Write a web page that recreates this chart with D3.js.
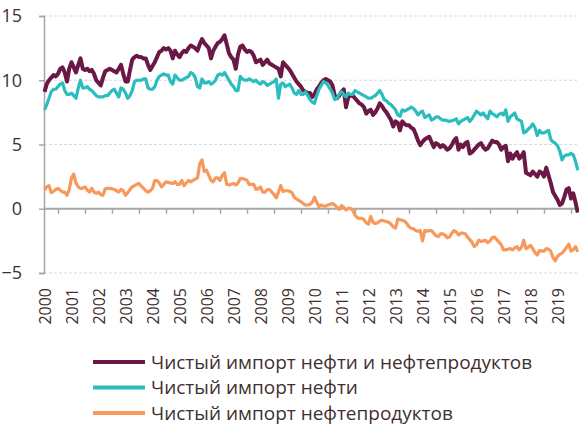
<!DOCTYPE html>
<html>
<head>
<meta charset="utf-8">
<script src="https://cdn.jsdelivr.net/npm/d3@7"></script>
<style>
  body { margin: 0; background: #fff; }
  svg { display: block; }
</style>
</head>
<body>
<div id="chart"></div>
<script>
const width = 579;
const height = 425;

const startYear = 2000;
const years = d3.range(2000, 2020);
const yTicks = [-5, 0, 5, 10, 15];

// monthly values, one row per year (2019 ends in October)
const totalImport = [
  9.1, 9.7, 10.0, 10.2, 10.4, 10.3, 10.5, 10.9, 11.0, 10.6, 9.9, 10.9,
  11.4, 11.0, 10.6, 11.2, 11.7, 10.9, 10.8, 10.9, 10.7, 10.8, 10.5, 10.0,
  9.8, 9.6, 10.2, 10.7, 10.8, 10.9, 10.8, 10.7, 10.6, 10.9, 11.2, 10.5,
  9.9, 9.9, 10.8, 11.6, 11.8, 11.9, 11.8, 11.8, 11.7, 11.7, 11.2, 10.8,
  11.1, 11.4, 11.8, 12.2, 12.3, 12.5, 12.4, 12.5, 12.3, 11.7, 12.3, 12.0,
  11.8, 12.1, 12.3, 12.2, 12.5, 12.7, 12.6, 12.5, 12.3, 12.8, 13.2, 12.9,
  12.7, 12.5, 11.7, 12.3, 12.6, 12.9, 13.0, 13.2, 13.5, 12.8, 12.1, 11.8,
  11.6, 10.9, 12.0, 12.6, 12.7, 12.4, 12.2, 12.3, 12.2, 11.9, 11.4, 11.5,
  11.6, 11.2, 11.4, 11.6, 11.3, 11.2, 11.1, 11.0, 10.9, 10.3, 11.4, 11.2,
  11.0, 10.8, 10.5, 10.2, 9.9, 9.7, 9.5, 9.2, 9.1, 9.0, 9.0, 8.7,
  8.9, 9.3, 9.5, 9.8, 10.0, 10.1, 10.0, 9.9, 9.6, 8.8, 8.6, 8.8,
  9.1, 9.3, 7.9, 8.7, 8.8, 8.8, 8.6, 8.4, 8.2, 8.1, 7.9, 7.4,
  7.6, 7.7, 7.3, 7.5, 7.8, 8.2, 8.0, 7.7, 7.5, 7.2, 6.9, 6.4,
  6.8, 6.7, 6.1, 6.8, 6.6, 6.5, 6.5, 6.3, 6.2, 5.8, 5.3, 4.95,
  5.2, 5.4, 5.5, 5.6, 5.2, 4.8, 5.1, 5.0, 4.8, 4.95, 4.8, 4.6,
  4.7, 4.95, 5.3, 5.5, 4.6, 5.0, 4.8, 5.1, 5.2, 4.3, 4.4, 4.6,
  4.8, 5.0, 5.1, 4.8, 4.6, 4.7, 5.0, 5.3, 5.2, 5.2, 5.0, 4.6,
  4.8, 4.9, 3.7, 4.3, 3.9, 4.2, 4.4, 3.9, 4.1, 4.4, 2.8, 2.7,
  2.6, 2.9, 2.7, 2.5, 2.9, 2.8, 2.5, 3.2, 2.6, 2.0, 1.3, 1.0,
  0.7, 0.3, 0.4, 0.9, 1.5, 1.6, 0.8, 1.2, 0.5, -0.3
];

const crudeImport = [
  7.7, 8.1, 8.6, 9.1, 9.3, 9.3, 9.5, 9.7, 9.8, 9.2, 8.9, 8.9,
  9.0, 8.8, 8.6, 9.4, 10.0, 9.4, 9.4, 9.5, 9.3, 9.2, 9.0, 8.8,
  8.7, 8.7, 8.7, 8.8, 8.8, 9.0, 9.2, 9.3, 9.0, 8.7, 9.4, 9.3,
  9.0, 8.6, 8.8, 9.2, 9.9, 10.0, 10.0, 10.0, 10.1, 10.1, 9.4, 9.3,
  9.3, 9.5, 10.0, 10.3, 10.4, 10.5, 10.4, 10.4, 9.9, 9.7, 10.4, 10.2,
  10.0, 10.0, 10.1, 10.2, 10.3, 10.6, 10.5, 10.2, 9.5, 9.4, 10.1, 9.8,
  9.8, 9.9, 9.7, 9.8, 10.0, 10.4, 10.5, 10.4, 10.6, 10.3, 10.0, 9.7,
  9.5, 9.2, 9.2, 10.3, 10.1, 10.0, 10.0, 10.1, 10.0, 9.9, 10.0, 9.8,
  9.7, 9.9, 9.8, 9.6, 9.7, 9.8, 9.9, 10.1, 8.6, 9.7, 9.8, 9.5,
  9.6, 9.7, 9.4, 9.0, 8.9, 9.2, 8.9, 8.9, 9.1, 8.8, 8.5, 8.3,
  8.2, 8.8, 9.3, 9.6, 9.9, 9.8, 9.6, 9.3, 9.0, 8.5, 8.6, 8.9,
  9.1, 8.9, 8.7, 9.0, 8.9, 8.9, 9.2, 9.1, 9.0, 8.9, 8.8, 8.7,
  8.6, 8.6, 8.7, 8.8, 9.0, 9.2, 8.9, 8.5, 8.4, 8.2, 8.1, 7.9,
  7.7, 7.3, 7.2, 7.7, 7.6, 7.7, 7.8, 7.9, 7.8, 7.6, 7.3, 7.5,
  7.6, 7.1, 7.2, 7.3, 6.9, 7.0, 7.15, 7.15, 7.0, 6.9, 6.9, 6.85,
  6.8, 6.85, 6.9, 7.0, 6.6, 6.8, 6.9, 7.0, 7.1, 6.8, 7.0, 7.3,
  7.6, 7.45, 7.3, 7.45, 7.2, 7.0, 7.6, 7.4, 7.3, 7.15, 7.35, 7.45,
  7.3, 7.7, 6.8, 7.15, 7.3, 7.45, 7.0, 6.9, 6.8, 5.9, 6.0, 6.2,
  6.35, 6.6, 6.3, 5.7, 6.1, 5.9, 5.9, 6.0, 6.1, 5.4, 5.2, 5.1,
  4.9, 4.5, 3.8, 4.1, 4.2, 4.2, 4.3, 4.2, 3.7, 3.0
];

const productsImport = [
  1.45, 1.7, 1.8, 1.25, 1.35, 1.5, 1.58, 1.45, 1.3, 1.3, 1.05, 1.5,
  2.4, 2.7, 2.0, 1.7, 1.58, 1.6, 1.7, 1.45, 1.3, 1.58, 1.3, 1.2,
  1.3, 1.1, 1.05, 1.55, 1.58, 1.58, 1.55, 1.5, 1.4, 1.3, 1.5, 1.4,
  1.05, 1.25, 1.5, 1.7, 1.8, 1.9, 1.97, 1.75, 1.6, 1.4, 1.3, 1.4,
  1.6, 2.2, 2.2, 2.0, 1.7, 1.9, 2.1, 2.05, 2.0, 1.97, 2.1, 1.9,
  1.9, 2.2, 1.8, 2.0, 2.2, 2.1, 2.2, 2.3, 2.4, 3.5, 3.8, 2.9,
  3.0, 2.6, 2.2, 2.1, 2.4, 2.4, 2.2, 2.6, 2.8, 1.9, 1.84, 1.9,
  1.97, 1.85, 2.0, 2.36, 2.35, 2.3, 2.2, 1.9, 1.9, 1.9, 1.5, 1.55,
  1.7, 1.3, 1.3, 1.5, 1.5, 1.3, 1.1, 0.85, 1.3, 1.8, 1.35, 1.4,
  1.4, 1.35, 1.25, 0.9, 0.75, 0.65, 0.55, 0.4, 0.29, 0.29, 0.35, 0.5,
  0.9, 0.5, 0.15, 0.3, 0.2, 0.2, 0.29, 0.35, 0.4, 0.3, 0.1, -0.05,
  0.25, 0.1, -0.1, 0.03, 0.03, -0.1, -0.5, -0.7, -0.75, -0.75, -0.85, -1.1,
  -1.2, -0.6, -1.05, -1.15, -1.1, -0.95, -0.9, -0.95, -1.0, -1.05, -1.2, -1.4,
  -1.5, -0.8, -0.85, -0.9, -0.95, -1.15, -1.4, -1.52, -1.55, -1.7, -1.75, -1.7,
  -2.5, -1.7, -1.75, -1.7, -1.7, -1.9, -2.1, -2.17, -1.95, -1.95, -2.05, -2.25,
  -2.2, -1.9, -1.7, -1.8, -2.05, -1.9, -1.9, -1.95, -2.2, -2.4, -2.6, -2.95,
  -2.8, -2.45, -2.55, -2.5, -2.45, -2.65, -2.5, -2.25, -2.2, -2.4, -2.6, -2.8,
  -3.2, -3.2, -3.15, -3.1, -3.2, -3.05, -2.95, -3.2, -3.0, -2.45, -3.1, -3.0,
  -2.85, -3.1, -3.4, -3.6, -3.25, -3.3, -3.3, -3.1, -3.15, -3.3, -3.8, -4.05,
  -3.7, -3.55, -3.45, -3.25, -3.0, -2.75, -3.3, -3.2, -2.95, -3.35
];

const seriesNames = [
  "Чистый импорт нефти и нефтепродуктов",
  "Чистый импорт нефти",
  "Чистый импорт нефтепродуктов"
];
const seriesColors = ["#6c1846", "#2bbdbd", "#f8985a"];
const seriesWidths = [4, 3.2, 3.2];
const seriesValues = [totalImport, crudeImport, productsImport];

const textColor = "#3e302f";
const axisColor = "#a6a6a6";

const svg = d3.select("#chart").append("svg")
  .attr("width", width)
  .attr("height", height)
  .style("font-family", "'Open Sans', sans-serif");

const x = d3.scaleLinear().domain([2000, 2020]).range([44.5, 44.5 + 27 * 20]);
const y = d3.scaleLinear().domain([-5, 15]).range([273, 16]);

// grid
svg.append("g")
  .selectAll("line")
  .data(yTicks.filter(d => d !== 0))
  .join("line")
  .attr("x1", 44).attr("x2", width)
  .attr("y1", d => y(d)).attr("y2", d => y(d))
  .attr("stroke", "#d9d9d9")
  .attr("stroke-width", 1)
  .attr("stroke-dasharray", "3,2");

// y axis
const yAxis = svg.append("g")
  .attr("transform", "translate(44,0)")
  .call(d3.axisLeft(y).tickValues(yTicks).tickSize(5).tickPadding(17).tickFormat(d3.format("d")));
yAxis.select(".domain").attr("stroke", axisColor).attr("stroke-width", 1.5);
yAxis.selectAll(".tick line").attr("stroke", axisColor).attr("stroke-width", 1.5);
yAxis.selectAll(".tick text")
  .attr("fill", textColor)
  .style("font-size", "18px")
  .style("font-family", "'Open Sans', sans-serif");

// zero line with mid-year ticks
const xAxis = svg.append("g")
  .attr("transform", `translate(0,${y(0)})`)
  .call(d3.axisBottom(x).tickValues(years.map(d => d + 0.5)).tickSize(5).tickFormat(""));
xAxis.select(".domain").remove();
xAxis.selectAll(".tick line").attr("stroke", axisColor).attr("stroke-width", 1.5);
svg.append("line")
  .attr("x1", 44).attr("x2", width)
  .attr("y1", y(0)).attr("y2", y(0))
  .attr("stroke", axisColor)
  .attr("stroke-width", 1.8);

// year labels
svg.append("g")
  .selectAll("text")
  .data(years)
  .join("text")
  .attr("transform", d => `translate(${x(d) + 1},288) rotate(-90)`)
  .attr("text-anchor", "end")
  .attr("dy", "0.35em")
  .attr("fill", textColor)
  .style("font-size", "16px")
  .text(d => d);

// lines
const line = d3.line()
  .x((d, i) => x(startYear + i / 12))
  .y(d => y(d));

svg.append("g")
  .selectAll("path")
  .data(seriesValues)
  .join("path")
  .attr("d", d => line(d))
  .attr("fill", "none")
  .attr("stroke", (d, i) => seriesColors[i])
  .attr("stroke-width", (d, i) => seriesWidths[i])
  .attr("stroke-linejoin", "round");

// legend
const legend = svg.append("g")
  .selectAll("g")
  .data(seriesNames)
  .join("g")
  .attr("transform", (d, i) => `translate(0,${362 + i * 25.5})`);

legend.append("line")
  .attr("x1", 93).attr("x2", 145)
  .attr("stroke", (d, i) => seriesColors[i])
  .attr("stroke-width", 4);

legend.append("text")
  .attr("x", 151)
  .attr("dy", "0.36em")
  .attr("fill", textColor)
  .style("font-size", "19px")
  .text(d => d);
</script>
</body>
</html>
